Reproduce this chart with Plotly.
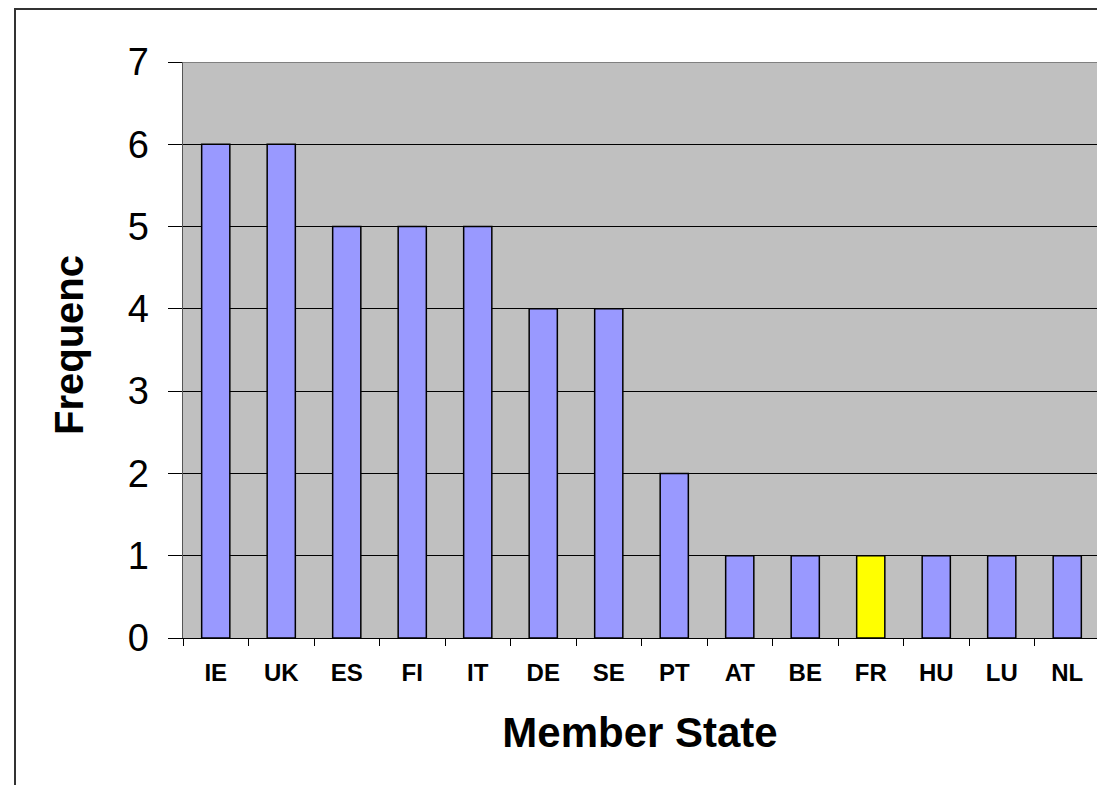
import plotly.graph_objects as go

categories = ["IE", "UK", "ES", "FI", "IT", "DE", "SE", "PT", "AT", "BE", "FR", "HU", "LU", "NL"]
frequency = [6, 6, 5, 5, 5, 4, 4, 2, 1, 1, 1, 1, 1, 1]
highlight = "FR"
y_ticks = [0, 1, 2, 3, 4, 5, 6, 7]

BLUE = "#9999FF"
YELLOW = "#FFFF00"
colors = [YELLOW if c == highlight else BLUE for c in categories]

W, H = 1097, 785
L, T = 183, 62
R = 0
B = H - 638
pw, ph = W - L - R, H - T - B

def px(xpage):
    return (xpage - L) / pw

def py(ypage):
    return (T + ph - ypage) / ph

fig = go.Figure()
fig.add_trace(go.Bar(
    x=categories, y=frequency,
    marker=dict(color=colors, line=dict(color="black", width=1.5)),
    width=0.43,
    showlegend=False,
    hoverinfo="skip",
))

fig.update_layout(
    width=W, height=H,
    margin=dict(l=L, r=R, t=T, b=B, pad=0),
    paper_bgcolor="white",
    plot_bgcolor="#C0C0C0",
    font=dict(family="Liberation Sans, Arial, sans-serif", color="black"),
    bargap=0.57,
)

# visible plot right edge at x=1097, full category band ends at ~1100
fig.update_xaxes(
    type="category",
    range=[-0.5, 13.5 - 3 / 65.5],
    tickson="boundaries",
    ticks="outside", ticklen=7, tickcolor="black", tickwidth=1,
    tickfont=dict(size=24, family="Liberation Sans, Arial, sans-serif", weight="bold"),
    ticklabelstandoff=13,
    showline=True, linecolor="black", linewidth=1,
    showgrid=False,
    title=dict(text="<b>Member State</b>", font=dict(size=42), standoff=32),
    fixedrange=True,
)

fig.update_yaxes(
    range=[0, 7],
    tickmode="array", tickvals=y_ticks, ticktext=[str(v) for v in y_ticks],
    ticks="outside", ticklen=14, tickcolor="black", tickwidth=1,
    tickfont=dict(size=38),
    ticklabelstandoff=11,
    showline=True, linecolor="#555555", linewidth=1.5,
    showgrid=True, gridcolor="black", gridwidth=1,
    zeroline=False,
    fixedrange=True,
)

# Y axis title (truncated in the original)
fig.add_annotation(
    text="<b>Frequenc</b>", textangle=-90,
    xref="paper", yref="paper",
    x=px(69), y=py(437),
    xanchor="center", yanchor="bottom",
    showarrow=False,
    font=dict(size=40, family="Liberation Sans, Arial, sans-serif", color="black"),
)

# grey top edge of the plot area
fig.add_shape(
    type="line", xref="paper", yref="y",
    x0=0, x1=1, y0=7, y1=7,
    line=dict(color="#808080", width=2),
    layer="above",
)

# outer chart border (extends beyond the cropped picture)
fig.add_shape(
    type="rect", xref="paper", yref="paper",
    x0=px(15), x1=1.05,
    y0=-0.5, y1=py(9),
    line=dict(color="#333333", width=2),
    fillcolor="rgba(0,0,0,0)",
    layer="below",
)

fig.write_html(
    "out.html",
    config={"displayModeBar": False, "staticPlot": True},
    post_script="document.body.style.margin='0';document.body.style.overflow='hidden';",
)
